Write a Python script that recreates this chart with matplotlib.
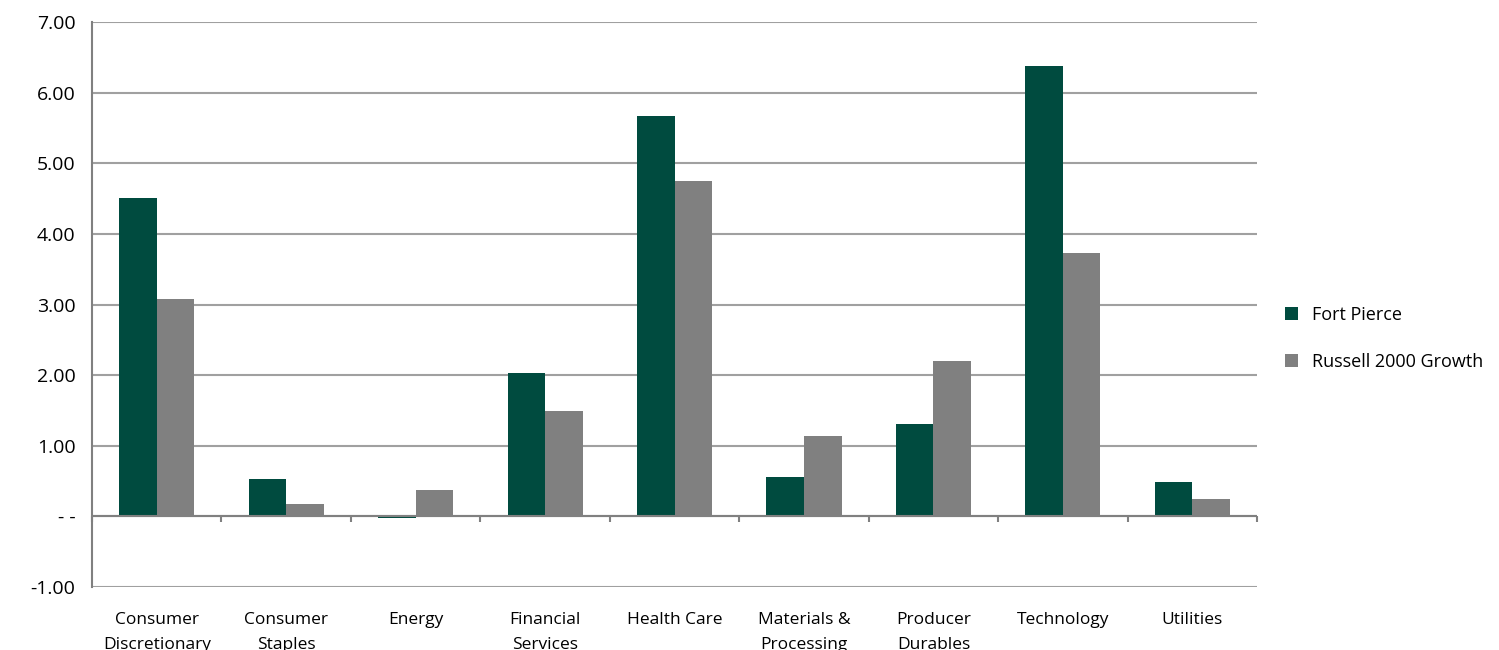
import matplotlib.pyplot as plt
import numpy as np

categories = ["Consumer\nDiscretionary", "Consumer\nStaples", "Energy", "Financial\nServices",
              "Health Care", "Materials &\nProcessing", "Producer\nDurables", "Technology", "Utilities"]
fort_pierce = [4.51, 0.53, -0.03, 2.03, 5.67, 0.56, 1.31, 6.38, 0.49]
russell = [3.08, 0.18, 0.38, 1.49, 4.75, 1.14, 2.20, 3.73, 0.24]

plt.rcParams['font.family'] = ['Open Sans', 'DejaVu Sans']

fig = plt.figure(figsize=(14.99, 6.5), dpi=100)
ax = fig.add_axes([0.0614, 0.097, 0.7772, 0.869])

x = np.arange(len(categories))
w = 0.29
ax.bar(x - w / 2, fort_pierce, w, color="#004B3F", label="Fort Pierce", zorder=3)
ax.bar(x + w / 2, russell, w, color="#808080", label="Russell 2000 Growth", zorder=3)

ax.set_xlim(-0.5, len(categories) - 0.5)
ax.set_ylim(-1, 7)
yt = np.arange(-1, 8)
ax.set_yticks(yt)
ax.set_yticklabels(["- -" if v == 0 else f"{v:.2f}" for v in yt], fontsize=14)
ax.yaxis.grid(True, color="#A0A0A0", linewidth=1.5, zorder=0)
ax.set_axisbelow(True)
ax.tick_params(axis="y", length=0, pad=12)

ax.set_xticks(x)
ax.set_xticklabels(categories, fontsize=12.5, va="top", linespacing=1.75)
ax.tick_params(axis="x", length=0, pad=18)

for s in ["top", "right", "bottom"]:
    ax.spines[s].set_visible(False)
ax.spines["left"].set_color("#808080")
ax.spines["left"].set_linewidth(1.5)

ax.axhline(0, color="#808080", linewidth=1.5, zorder=4)
ax.vlines(np.arange(len(categories) + 1) - 0.5, -0.08, 0, color="#808080", linewidth=1.5, zorder=4, clip_on=False)

ax.legend(loc="center left", bbox_to_anchor=(1.01, 0.44), frameon=False, fontsize=13,
          handlelength=0.7, handleheight=0.7, labelspacing=1.6)

fig.savefig("out.png", dpi=100)
